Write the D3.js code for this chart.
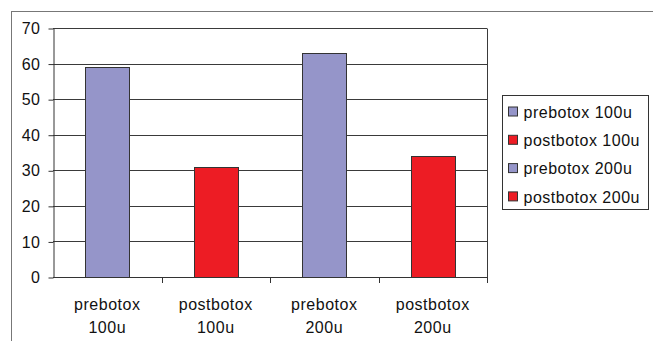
<!DOCTYPE html>
<html lang="en">
<head>
  <meta charset="UTF-8">
  <title>Botox bar chart</title>
  <script src="https://d3js.org/d3.v7.min.js"></script>
  <style>
    body { margin: 0; background: #fff; }
    svg { display: block; font-family: "Liberation Sans", Arial, sans-serif; }
    text { letter-spacing: 0.5px; }
  </style>
</head>
<body>
  <svg id="chart"></svg>

  <script>
    // data
    const categories = ["prebotox 100u", "postbotox 100u", "prebotox 200u", "postbotox 200u"];
    const values = [59, 31, 63, 34];
    const seriesColors = ["#9595c9", "#ed1c24", "#9595c9", "#ed1c24"];
    const yTicks = [0, 10, 20, 30, 40, 50, 60, 70];

    const width = 653;
    const height = 341;
    const margin = { top: 28, left: 53, right: 166, bottom: 64 };
    const fontSize = 16;

    const svg = d3.select("#chart")
      .attr("width", width)
      .attr("height", height);

    // outer chart frame (runs off right/bottom)
    svg.append("rect")
      .attr("x", 11.5).attr("y", 11.5)
      .attr("width", 700).attr("height", 400)
      .attr("fill", "none")
      .attr("stroke", "#777");

    const x = d3.scaleBand()
      .domain(categories)
      .range([margin.left, width - margin.right])
      .paddingInner(0.59)
      .paddingOuter(0.295);

    const y = d3.scaleLinear()
      .domain([0, 70])
      .range([height - margin.bottom, margin.top]);

    const x0 = margin.left, x1 = width - margin.right;

    // gridlines
    svg.append("g")
      .selectAll("line")
      .data(yTicks.slice(1))
      .join("line")
      .attr("x1", x0).attr("x2", x1)
      .attr("y1", d => Math.round(y(d)) + 0.5)
      .attr("y2", d => Math.round(y(d)) + 0.5)
      .attr("stroke", "#3a3a3a");

    // right plot border
    svg.append("line")
      .attr("x1", x1 + 0.5).attr("x2", x1 + 0.5)
      .attr("y1", Math.round(y(70)) + 0.5).attr("y2", Math.round(y(0)) + 0.5)
      .attr("stroke", "#3a3a3a");

    // bars
    svg.append("g")
      .selectAll("rect")
      .data(values)
      .join("rect")
      .attr("x", (d, i) => Math.round(x(categories[i])) + 0.5)
      .attr("y", d => Math.round(y(d)) + 0.5)
      .attr("width", Math.round(x.bandwidth()))
      .attr("height", d => Math.round(y(0)) - Math.round(y(d)))
      .attr("fill", (d, i) => seriesColors[i])
      .attr("stroke", "#333");

    // y axis
    const yAxis = svg.append("g")
      .attr("transform", `translate(${x0 + 0.5},0.5)`)
      .call(d3.axisLeft(y).tickValues(yTicks).tickSize(5).tickPadding(8).tickSizeOuter(0));
    yAxis.select(".domain").attr("stroke", "#333");
    yAxis.selectAll(".tick line").attr("stroke", "#333");
    yAxis.selectAll(".tick text")
      .attr("font-size", fontSize)
      .attr("font-family", "Liberation Sans, Arial, sans-serif")
      .attr("fill", "#111");

    // x axis with ticks at band boundaries
    const boundaries = categories.map(c => x(c) - x.step() * x.paddingInner() / 2).slice(1);
    svg.append("line")
      .attr("x1", x0).attr("x2", x1 + 1)
      .attr("y1", Math.round(y(0)) + 0.5).attr("y2", Math.round(y(0)) + 0.5)
      .attr("stroke", "#333");
    svg.append("g")
      .selectAll("line")
      .data(boundaries.concat([x1]))
      .join("line")
      .attr("x1", d => Math.round(d) + 0.5).attr("x2", d => Math.round(d) + 0.5)
      .attr("y1", Math.round(y(0))).attr("y2", Math.round(y(0)) + 6)
      .attr("stroke", "#333");

    // x labels on two lines
    const xl = svg.append("g")
      .selectAll("text")
      .data(categories)
      .join("text")
      .attr("x", d => x(d) + x.bandwidth() / 2)
      .attr("y", 310)
      .attr("text-anchor", "middle")
      .attr("font-size", fontSize)
      .attr("fill", "#111");
    xl.append("tspan")
      .attr("x", d => x(d) + x.bandwidth() / 2)
      .text(d => d.split(" ")[0]);
    xl.append("tspan")
      .attr("x", d => x(d) + x.bandwidth() / 2)
      .attr("dy", 22.5)
      .text(d => d.split(" ")[1]);

    // legend
    const legend = svg.append("g").attr("transform", "translate(502.5,95.5)");
    legend.append("rect")
      .attr("width", 146).attr("height", 114)
      .attr("fill", "#fff")
      .attr("stroke", "#333");
    const item = legend.selectAll("g")
      .data(categories)
      .join("g")
      .attr("transform", (d, i) => `translate(6,${16.5 + i * 28.3})`);
    item.append("rect")
      .attr("x", 0).attr("y", -5)
      .attr("width", 9).attr("height", 9)
      .attr("fill", (d, i) => seriesColors[i])
      .attr("stroke", "#333");
    item.append("text")
      .attr("x", 15)
      .attr("dy", "0.35em")
      .attr("font-size", fontSize)
      .attr("fill", "#111")
      .text(d => d);
  </script>
</body>
</html>
